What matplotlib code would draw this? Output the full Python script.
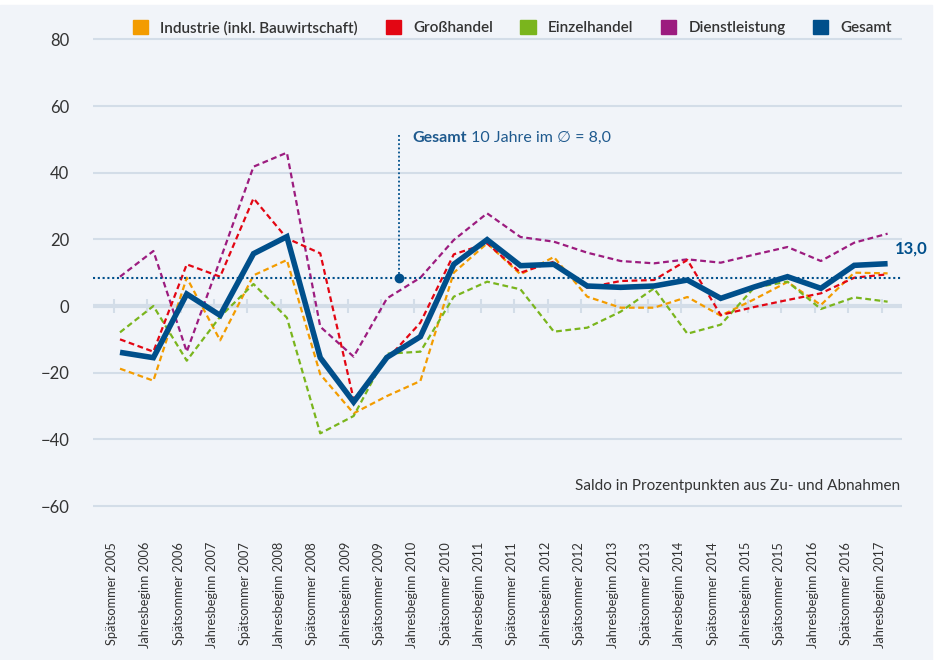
import matplotlib
matplotlib.use('Agg')
import matplotlib.pyplot as plt
from matplotlib.patches import Patch, Rectangle

plt.rcParams['font.family'] = ['Lato', 'DejaVu Sans']

# Daten (Saldo in Prozentpunkten)
labels = ['Spätsommer 2005', 'Jahresbeginn 2006', 'Spätsommer 2006', 'Jahresbeginn 2007',
          'Spätsommer 2007', 'Jahresbeginn 2008', 'Spätsommer 2008', 'Jahresbeginn 2009',
          'Spätsommer 2009', 'Jahresbeginn 2010', 'Spätsommer 2010', 'Jahresbeginn 2011',
          'Spätsommer 2011', 'Jahresbeginn 2012', 'Spätsommer 2012', 'Jahresbeginn 2013',
          'Spätsommer 2013', 'Jahresbeginn 2014', 'Spätsommer 2014', 'Jahresbeginn 2015',
          'Spätsommer 2015', 'Jahresbeginn 2016', 'Spätsommer 2016', 'Jahresbeginn 2017']
industrie = [-18.8, -22.4, 8.5, -10.3, 9.2, 13.8, -20.5, -32.2, -27.0, -22.5, 10.0, 18.8,
             9.5, 14.7, 2.8, -0.5, -0.5, 2.7, -2.9, 2.0, 7.2, 0.3, 10.0, 9.8]
grosshandel = [-10.0, -13.7, 12.5, 8.8, 32.3, 20.3, 15.8, -28.0, -16.0, -5.0, 15.5, 18.8,
               10.0, 13.3, 5.5, 7.5, 7.8, 13.8, -2.7, -0.3, 1.8, 3.8, 8.5, 9.5]
einzelhandel = [-7.9, 0.0, -16.4, -3.2, 6.6, -3.5, -38.2, -33.0, -14.3, -13.7, 2.8, 7.3,
                5.0, -7.7, -6.5, -1.7, 5.3, -8.3, -5.6, 5.5, 7.3, -0.9, 2.6, 1.3]
dienstleistung = [8.8, 16.5, -13.7, 13.8, 41.8, 46.0, -6.2, -15.2, 2.3, 8.5, 19.8, 27.8,
                  20.7, 19.3, 16.0, 13.5, 12.8, 14.0, 13.0, 15.4, 17.7, 13.5, 19.0, 21.7]
gesamt = [-13.9, -15.5, 3.6, -2.8, 15.7, 20.8, -15.5, -28.8, -15.4, -9.2, 12.5, 19.9,
          12.1, 12.5, 6.0, 5.6, 6.0, 7.8, 2.3, 5.7, 8.8, 5.3, 12.2, 12.7]
gesamt_schnitt = 8.5  # Linie fuer "10 Jahre im Schnitt" (wie im Original gezeichnet)
gesamt_letzter = '13,0'
yticks = [80, 60, 40, 20, 0, -20, -40, -60]

# Farben
c_ind = '#f39c00'
c_gro = '#e30613'
c_ein = '#7ab51d'
c_die = '#9c1c7f'
c_ges = '#004f8b'
c_txt = '#333333'
c_grid = '#d3dde8'

fig = plt.figure(figsize=(9.42, 6.6), dpi=100)
fig.patches.append(Rectangle((0, 0), 932 / 942, 655 / 660, transform=fig.transFigure,
                             color='#f1f4f9', zorder=-10))
ax = fig.add_axes([0.0987, 0.2232, 0.8588, 0.7273])
ax.set_facecolor('none')

x = list(range(len(labels)))

# Gitter und Nulllinie
for t in yticks:
    if t != 0:
        ax.axhline(t, color=c_grid, lw=1.5, zorder=0)
ax.axhline(0, color=c_grid, lw=3, zorder=0)
ax.vlines([i - 0.18 for i in x], -2.2, 2.2, color=c_grid, lw=1.5, zorder=0)

# Linien
dash = (0, (2.6, 1.6))
ax.plot(x, industrie, color=c_ind, lw=1.6, ls=dash, zorder=2)
ax.plot(x, einzelhandel, color=c_ein, lw=1.6, ls=dash, zorder=2)
ax.plot(x, dienstleistung, color=c_die, lw=1.6, ls=dash, zorder=2)
ax.plot(x, grosshandel, color=c_gro, lw=1.6, ls=dash, zorder=2)

# Durchschnitt
ax.axhline(gesamt_schnitt, color=c_ges, lw=1.5, ls=(0, (1, 1.3)), zorder=3)
ax.plot([8.37, 8.37], [gesamt_schnitt, 52], color=c_ges, lw=1.3, ls=(0, (1, 1.3)), zorder=3)
ax.plot([8.37], [gesamt_schnitt], 'o', color=c_ges, ms=6, zorder=4)
t1 = ax.text(8.75, 50.4, 'Gesamt', color='#1f5a8e', fontsize=11.5, fontweight='bold', va='center')
ax.annotate(' 10 Jahre im ∅ = 8,0', xy=(1, 0), xycoords=t1, va='bottom', ha='left',
            color='#1f5a8e', fontsize=11.5)

ax.plot(x, gesamt, color=c_ges, lw=4, solid_joinstyle='miter', solid_capstyle='butt', zorder=5)
ax.text(23.22, 17.1, gesamt_letzter, color=c_ges, fontsize=12, fontweight='bold', va='center')

ax.text(23.38, -54, 'Saldo in Prozentpunkten aus Zu- und Abnahmen', ha='right', va='center',
        color=c_txt, fontsize=11)

# Achsen
ax.set_xlim(-0.81, 23.43)
ax.set_ylim(-62, 82)
ax.set_yticks(yticks)
ax.set_yticklabels([str(t).replace('-', '\u2212') for t in yticks], fontsize=12, color=c_txt)
ax.set_xticks([i - 0.24 for i in x])
ax.set_xticklabels(labels, rotation=90, fontsize=9.2, color=c_txt)
ax.tick_params(axis='x', length=0, pad=21)
ax.tick_params(axis='y', length=0, pad=17)
for s in ax.spines.values():
    s.set_visible(False)

# Legende
handles = [Patch(color=c_ind), Patch(color=c_gro), Patch(color=c_ein), Patch(color=c_die), Patch(color=c_ges)]
names = ['Industrie (inkl. Bauwirtschaft)', 'Großhandel', 'Einzelhandel', 'Dienstleistung', 'Gesamt']
leg = fig.legend(handles, names, ncol=5, loc='center', bbox_to_anchor=(0.544, 0.958), frameon=False,
                 fontsize=11, handlelength=1.0, handleheight=1.0, handletextpad=0.8, columnspacing=1.8)
for t in leg.get_texts():
    t.set_color(c_txt)
    t.set_fontweight('semibold')

fig.savefig('out.png', dpi=100)
